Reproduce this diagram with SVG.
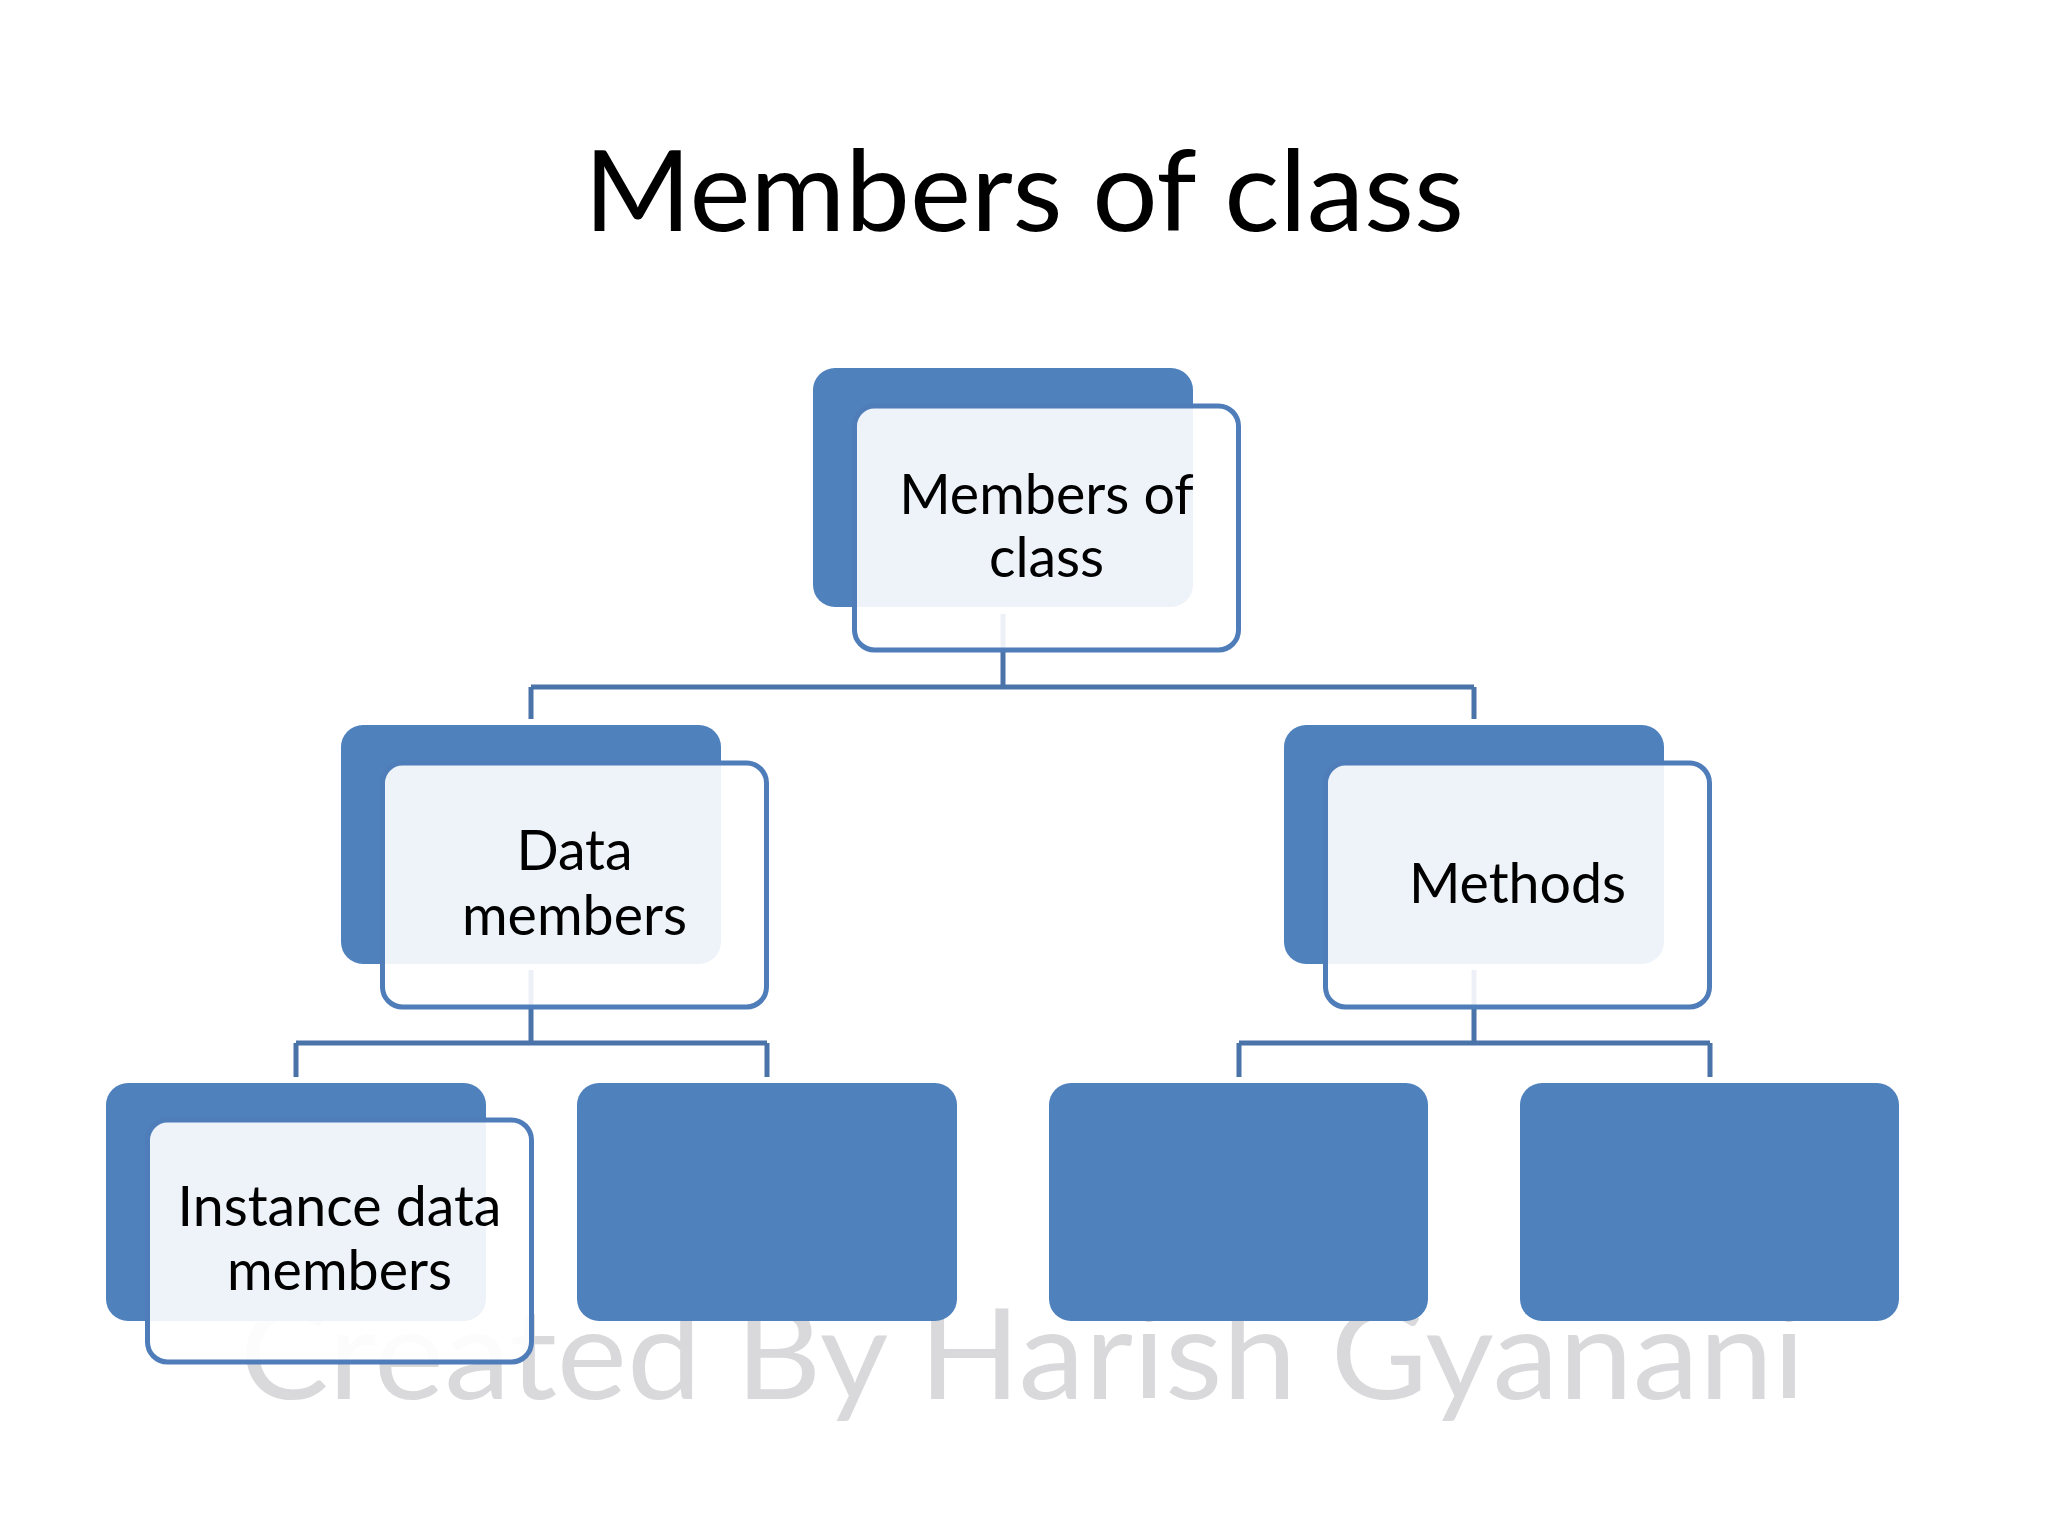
<svg xmlns="http://www.w3.org/2000/svg" width="2048" height="1536" viewBox="0 0 2048 1536">
<style>
.back{fill:#4F81BD;}
.front{fill:#FFFFFF;fill-opacity:0.9;stroke:#4F7DB9;stroke-width:5;}
.lbl{font-family:Lato,"Open Sans","Liberation Sans",sans-serif;font-size:55.5px;fill:#000;text-anchor:middle;}
.conn{fill:none;stroke:#4A73AA;stroke-width:5;}
</style>
<rect x="0" y="0" width="2048" height="1536" fill="#FFFFFF"/>
<text x="240" y="1399" font-family="Lato,'Open Sans','Liberation Sans',sans-serif" font-size="126" fill="#D9D9DB" textLength="1565" lengthAdjust="spacingAndGlyphs">Created By Harish Gyanani</text>
<text x="584" y="231" font-family="Lato,'Open Sans','Liberation Sans',sans-serif" font-size="112" fill="#000" textLength="880" lengthAdjust="spacingAndGlyphs">Members of class</text>
<g id="connectors" class="conn">
<path d="M1003 614 V687 M531 687 H1474 M531 687 V719 M1474 687 V719"/>
<path d="M531 970 V1043 M296 1043 H767 M296 1043 V1077 M767 1043 V1077"/>
<path d="M1474 970 V1043 M1239 1043 H1710 M1239 1043 V1077 M1710 1043 V1077"/>
</g>
<g id="node-members-of-class">
<rect class="back" x="813" y="368" width="380" height="239" rx="22"/>
<rect class="front" x="854.5" y="406" width="384" height="244" rx="20"/>
<text class="lbl" x="1046.5" y="514">Members of</text>
<text class="lbl" x="1046.5" y="577">class</text>
</g>
<g id="node-data-members">
<rect class="back" x="341" y="725" width="380" height="239" rx="22"/>
<rect class="front" x="382.5" y="763" width="384" height="244" rx="20"/>
<text class="lbl" x="574.5" y="870">Data</text>
<text class="lbl" x="574.5" y="935">members</text>
</g>
<g id="node-methods">
<rect class="back" x="1284" y="725" width="380" height="239" rx="22"/>
<rect class="front" x="1325.5" y="763" width="384" height="244" rx="20"/>
<text class="lbl" x="1517.5" y="903">Methods</text>
</g>
<g id="node-instance-data-members">
<rect class="back" x="106" y="1083" width="380" height="238" rx="22"/>
<rect class="front" x="147.5" y="1120" width="384" height="242" rx="20"/>
<text class="lbl" x="339.5" y="1226">Instance data</text>
<text class="lbl" x="339.5" y="1290">members</text>
</g>
<g id="node-blank-1">
<rect class="back" x="577" y="1083" width="380" height="238" rx="22"/>
</g>
<g id="node-blank-2">
<rect class="back" x="1049" y="1083" width="379" height="238" rx="22"/>
</g>
<g id="node-blank-3">
<rect class="back" x="1520" y="1083" width="379" height="238" rx="22"/>
</g>
</svg>
